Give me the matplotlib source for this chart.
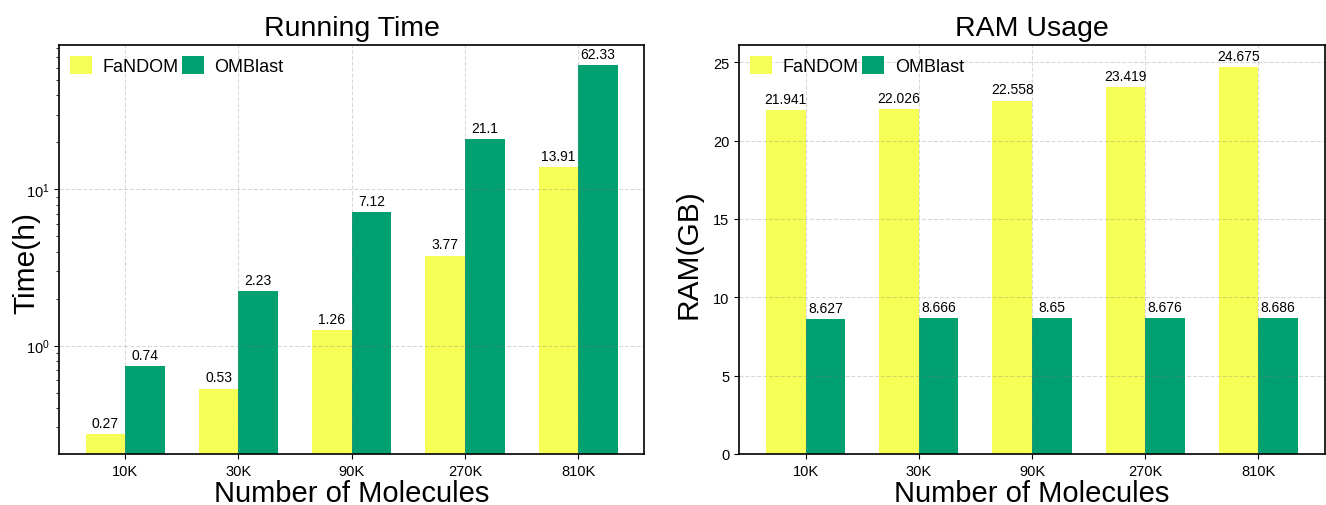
import matplotlib.pyplot as plt
import numpy as np

plt.rcParams['font.family'] = ['Liberation Sans', 'DejaVu Sans']
plt.rcParams['mathtext.fontset'] = 'custom'
plt.rcParams['mathtext.rm'] = 'Liberation Sans'

# data
categories = ["10K", "30K", "90K", "270K", "810K"]
fandom_time = [0.27, 0.53, 1.26, 3.77, 13.91]
omblast_time = [0.74, 2.23, 7.12, 21.1, 62.33]
fandom_ram = [21.941, 22.026, 22.558, 23.419, 24.675]
omblast_ram = [8.627, 8.666, 8.65, 8.676, 8.686]

c_fandom = '#F5FF55'
c_omblast = '#00A071'
width = 0.35
x = np.arange(len(categories))

fig, (ax1, ax2) = plt.subplots(1, 2, figsize=(13.26, 5.06), dpi=100)
fig.subplots_adjust(left=0.0445, right=0.999, top=0.909, bottom=0.101, wspace=0.162)


def draw(ax, a, b, title, ylabel):
    b1 = ax.bar(x - width / 2, a, width, color=c_fandom, label='FaNDOM')
    b2 = ax.bar(x + width / 2, b, width, color=c_omblast, label='OMBlast')
    ax.bar_label(b1, fmt='%g', padding=3, fontsize=10)
    ax.bar_label(b2, fmt='%g', padding=3, fontsize=10)
    ax.set_xticks(x)
    ax.set_xticklabels(categories)
    ax.tick_params(labelsize=10.5)
    ax.set_title(title, fontsize=20.5, pad=7)
    ax.set_xlabel('Number of Molecules', fontsize=21, labelpad=1)
    ax.set_ylabel(ylabel, fontsize=21.5)
    ax.grid(True, linestyle='--', color='gray', alpha=0.3)
    for s in ax.spines.values():
        s.set_linewidth(1.2)
    ax.legend(loc='upper left', ncol=2, frameon=False, fontsize=13,
              handlelength=1.2, handleheight=1.2, columnspacing=0.2,
              handletextpad=0.6, borderaxespad=0.2)


draw(ax1, fandom_time, omblast_time, 'Running Time', 'Time(h)')
ax1.set_yscale('log')
ax1.set_ylim(0.2025, 84.1)
ax1.yaxis.set_label_coords(-0.031, 0.47)

draw(ax2, fandom_ram, omblast_ram, 'RAM Usage', 'RAM(GB)')
ax2.set_ylim(0, 26.1)
ax2.yaxis.set_label_coords(-0.063, 0.49)

plt.savefig('out.png', dpi=100)
